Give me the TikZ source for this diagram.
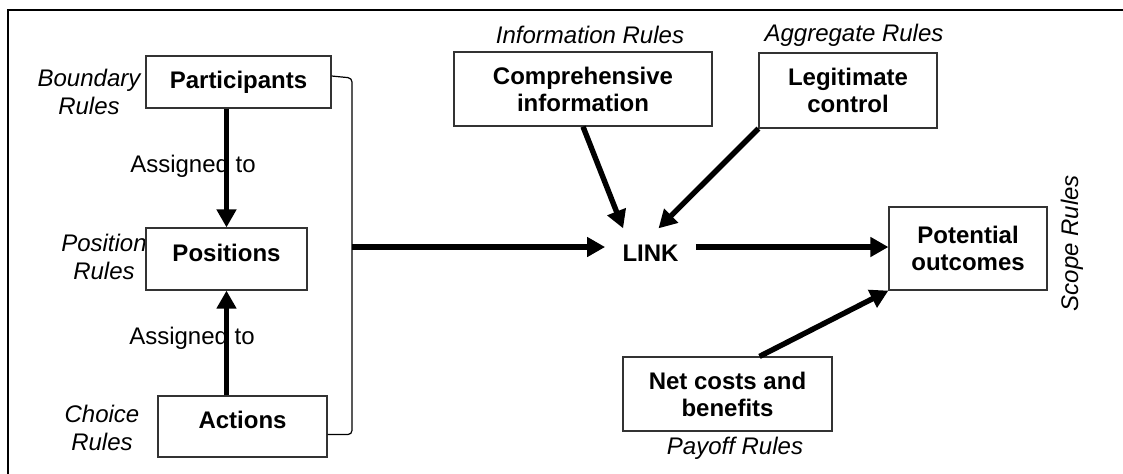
\documentclass[tikz,border=0pt]{standalone}
\usepackage{fontspec}
\setmainfont{Liberation Sans}
\usetikzlibrary{arrows.meta}

\begin{document}
\begin{tikzpicture}[x=0.5pt, y=-0.5pt,
  box/.style = {draw=black!80, line width=0.6pt, fill=white, align=center,
    inner sep=0pt, font=\fontsize{12}{13.5}\selectfont\bfseries},
  rules/.style = {align=center, inner sep=0pt, font=\fontsize{12}{14}\selectfont\itshape},
  plain/.style = {inner sep=0pt, font=\fontsize{12}{14}\selectfont},
  flow/.style = {line width=2.7pt, -{Triangle[length=9pt, width=9.5pt]}}]
\useasboundingbox (0,0) rectangle (1123,473);
\draw[line width=1.1pt] (8,10) rectangle (1140,490);

\path (89,92) node[rules] (boundary) {Boundary\\Rules};
\path (104,257) node[rules] (position) {Position\\Rules};
\path (102,428) node[rules] (choice) {Choice\\Rules};
\path (590,35) node[rules] (inform) {Information Rules};
\path (854,35) node[rules] (aggr) {Aggregate Rules};
\path (735,448) node[rules] (payoff) {Payoff Rules};
\path (1072,243) node[rules, rotate=90] (scope) {Scope Rules};
\path (193,166) node[plain] (assign1) {Assigned to};
\path (192,338) node[plain] (assign2) {Assigned to};

\path (238.5,82) node[box, minimum width=92.5pt, minimum height=26pt] (part) {Participants};
\path (226.5,259) node[box, minimum width=80.5pt, minimum height=31pt, text depth=6pt] (pos) {Positions};
\path (242.5,426.5) node[box, minimum width=84.5pt, minimum height=30.5pt, text depth=6.5pt] (act) {Actions};
\path (583,89) node[box, minimum width=129pt, minimum height=37pt] (comp) {Comprehensive\\information};
\path (848,90.5) node[box, minimum width=89pt, minimum height=37.5pt] (legit) {Legitimate\\control};
\path (968,248.5) node[box, minimum width=79pt, minimum height=41.5pt] (pot) {Potential\\outcomes};
\path (727.5,394) node[box, minimum width=104.5pt, minimum height=37pt] (net) {Net costs and\\benefits};
\path (650.5,253) node[font=\fontsize{12}{13.5}\selectfont\bfseries, inner xsep=8.5pt,
  inner ysep=8pt, text depth=0pt] (link) {LINK};

\draw[flow] (part.south -| pos.north) -- (pos.north);
\draw[flow] (act.north -| pos.south) -- (pos.south);

\coordinate (brk) at (352,247);
\draw[line width=0.6pt, rounded corners=2pt] ([yshift=3pt]part.east) -- ([yshift=2pt]part.east -| brk)
  -- ([yshift=-4pt]act.east -| brk) -- ([yshift=-4pt]act.east);
\draw[flow] (brk) -- ([yshift=3pt]link.west);
\draw[flow] ([yshift=3pt]link.east) -- ([yshift=3pt]link.east -| pot.west);

\draw[flow] (comp.south) -- ([xshift=9pt]link.north west);
\draw[flow] (legit.south west) -- ([xshift=4pt]link.north);
\draw[flow] ([xshift=16pt]net.north) -- (pot.south west);
\end{tikzpicture}
\end{document}
